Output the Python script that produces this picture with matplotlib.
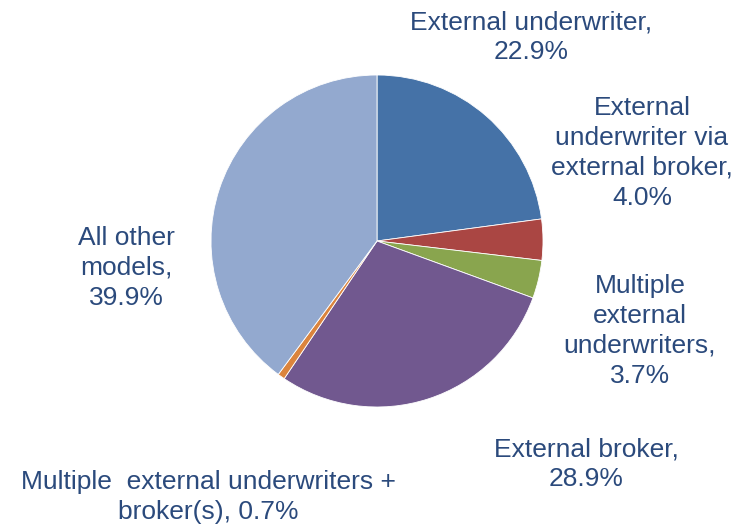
import matplotlib.pyplot as plt

# shares of each model, clockwise from 12 o'clock
labels = ['External underwriter,\n22.9%',
          'External\nunderwriter via\nexternal broker,\n4.0%',
          'Multiple\nexternal\nunderwriters,\n3.7%',
          'External broker,\n28.9%',
          'Multiple  external underwriters +\nbroker(s), 0.7%',
          'All other\nmodels,\n39.9%']
shares = [22.9, 4.0, 3.7, 28.9, 0.7, 39.9]
colors = ['#4572A7', '#AA4643', '#89A54E', '#71588F', '#DB843D', '#93A9CF']

# label centres in pixel coordinates (from top-left)
label_xy = [(531, 37), (642, 153), (640, 331), (586, 464), (208, 497), (126, 268)]

plt.rcParams['font.family'] = ['Liberation Sans', 'DejaVu Sans']

H = 526
fig = plt.figure(figsize=(7.48, 5.26), dpi=100)
ax = fig.add_axes([0, 0, 1, 1])

ax.pie(shares, colors=colors, startangle=90, counterclock=False,
       center=(377, H - 241), radius=166, frame=True,
       wedgeprops=dict(edgecolor='white', linewidth=0.6))
ax.set_xlim(0, 748)
ax.set_ylim(0, H)
ax.axis('off')

for lab, (x, y) in zip(labels, label_xy):
    ax.text(x, H - y, lab, ha='center', va='center', fontsize=19,
            color='#2B4A7C', linespacing=1.3, multialignment='center')

fig.savefig('out.png', dpi=100)
